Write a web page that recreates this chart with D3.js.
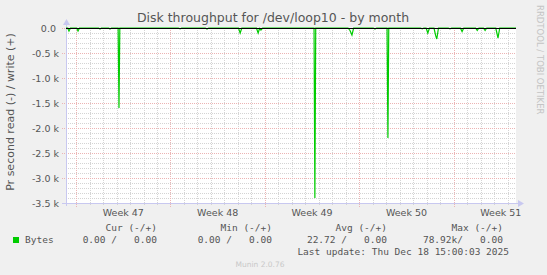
<!DOCTYPE html>
<html>
<head>
<meta charset="utf-8">
<script src="https://cdn.jsdelivr.net/npm/d3@7"></script>
<style>
  body { margin: 0; background: #f0f0f0; }
  svg text { font-family: "DejaVu Sans", sans-serif; }
  .mono { font-family: "DejaVu Sans Mono", monospace; white-space: pre; }
</style>
</head>
<body>
<script>
// time range of the graph (UTC)
var startTime = new Date(Date.UTC(2025, 10, 15, 6, 0)),
    endTime = new Date(Date.UTC(2025, 11, 18, 15, 0));

// read series: hours after startTime, bytes/s (drawn negative)
var sampleHours = [0, 3, 5.3, 8, 19, 21.4, 24, 58, 60.5, 63, 76, 78.3, 81,
  92.8, 94.3, 95.8, 200, 203, 206, 248, 251, 254, 307, 310, 313, 339, 342, 344.5, 347, 350,
  441.5, 443, 444.5, 502, 505.5, 509, 512, 547, 550, 553, 571.5, 573, 574.5,
  631, 634, 637, 641, 644, 647, 655, 658, 660, 663, 680.5, 683.5, 686.5,
  702, 705, 708, 729, 732, 735, 743, 746, 749, 765, 769, 772, 801];
var readBytes = [0, 0, 60, 0, 0, 60, 0, 0, 20, 0, 0, 20, 0,
  0, 1600, 0, 0, 15, 0, 0, 20, 0, 0, 100, 0, 0, 100, 10, 40, 0,
  0, 3400, 0, 0, 50, 140, 0, 0, 20, 0, 0, 2200, 0,
  0, 15, 0, 0, 100, 0, 0, 150, 220, 0, 0, 15, 0,
  0, 70, 0, 0, 50, 0, 0, 50, 0, 0, 200, 0, 0];

var yTicks = [0, -500, -1000, -1500, -2000, -2500, -3000, -3500];
var yTickLabels = ["0.0 ", "-0.5 k", "-1.0 k", "-1.5 k", "-2.0 k", "-2.5 k", "-3.0 k", "-3.5 k"];
var weekLabels = ["Week 47", "Week 48", "Week 49", "Week 50", "Week 51"];

var legendHeads = ["Cur (-/+)", "Min (-/+)", "Avg (-/+)", "Max (-/+)"];
var legendValues = ["0.00 /   0.00", "0.00 /   0.00", "22.72 /   0.00", "78.92k/   0.00"];

var width = 547, height = 275;
var svg = d3.select("body").append("svg")
    .attr("width", width)
    .attr("height", height);

var x = d3.scaleUtc().domain([startTime, endTime]).range([66, 516]);
var y = d3.scaleLinear().domain([-3500, 0]).range([203, 28]);

// canvas
svg.append("rect")
    .attr("x", 66).attr("y", 28)
    .attr("width", 450).attr("height", 175)
    .attr("fill", "#ffffff");

// minor grid
svg.selectAll(".hminor")
    .data(d3.range(-3500, 1, 100))
  .enter().append("line")
    .attr("x1", 66).attr("x2", 516)
    .attr("y1", function(d) { return y(d) + 0.5; })
    .attr("y2", function(d) { return y(d) + 0.5; })
    .attr("stroke", "#d4d4d4")
    .attr("stroke-dasharray", "1,1");

svg.selectAll(".vminor")
    .data(d3.utcDay.range(startTime, endTime))
  .enter().append("line")
    .attr("x1", function(d) { return Math.round(x(d)) + 0.5; })
    .attr("x2", function(d) { return Math.round(x(d)) + 0.5; })
    .attr("y1", 28).attr("y2", 206)
    .attr("stroke", "#d4d4d4")
    .attr("stroke-dasharray", "1,1");

// major grid
svg.selectAll(".hmajor")
    .data(yTicks)
  .enter().append("line")
    .attr("x1", 62).attr("x2", 516)
    .attr("y1", function(d) { return y(d) + 0.5; })
    .attr("y2", function(d) { return y(d) + 0.5; })
    .attr("stroke", "#ecb4b4")
    .attr("stroke-dasharray", "1,1");

var sundays = d3.utcSunday.range(startTime, endTime);
svg.selectAll(".vmajor")
    .data(sundays)
  .enter().append("line")
    .attr("x1", function(d) { return Math.round(x(d)) + 0.5; })
    .attr("x2", function(d) { return Math.round(x(d)) + 0.5; })
    .attr("y1", 28).attr("y2", 207)
    .attr("stroke", "#ecb4b4")
    .attr("stroke-dasharray", "1,1");

// axes lines
svg.append("line")
    .attr("x1", 66.5).attr("x2", 66.5)
    .attr("y1", 24).attr("y2", 206)
    .attr("stroke", "#c8c8f0");
svg.append("path")
    .attr("d", "M63,25 L70,25 L66.5,19 Z")
    .attr("fill", "#c8c8f0");
svg.append("line")
    .attr("x1", 62).attr("x2", 519)
    .attr("y1", 203.5).attr("y2", 203.5)
    .attr("stroke", "#c8c8f0");
svg.append("path")
    .attr("d", "M518,200 L518,207 L524,203.5 Z")
    .attr("fill", "#c8c8f0");

// data line
var line = d3.line()
    .x(function(d, i) { return x(new Date(startTime.getTime() + sampleHours[i] * 3600e3)); })
    .y(function(d) { return y(-d); });

svg.append("path")
    .datum(readBytes)
    .attr("d", line)
    .attr("fill", "none")
    .attr("stroke", "#00cc00")
    .attr("stroke-width", 1.2);

// zero line
svg.append("line")
    .attr("x1", 66).attr("x2", 516)
    .attr("y1", y(0) + 0.5).attr("y2", y(0) + 0.5)
    .attr("stroke", "#000000");

// y tick labels
svg.selectAll(".ylab")
    .data(yTicks)
  .enter().append("text")
    .attr("x", 59)
    .attr("y", function(d) { return y(d) + 3.5; })
    .attr("text-anchor", "end")
    .attr("font-size", "9.5px")
    .attr("fill", "#555")
    .style("white-space", "pre")
    .text(function(d, i) { return yTickLabels[i]; });

// x labels (mid-week)
svg.selectAll(".xlab")
    .data(sundays)
  .enter().append("text")
    .attr("x", function(d) { return x(d3.utcHour.offset(d, 84)); })
    .attr("y", 216)
    .attr("text-anchor", "middle")
    .attr("font-size", "9.5px")
    .attr("fill", "#555")
    .text(function(d, i) { return weekLabels[i]; });

// title
svg.append("text")
    .attr("x", 273).attr("y", 22)
    .attr("text-anchor", "middle")
    .attr("font-size", "12.5px")
    .attr("fill", "#555")
    .text("Disk throughput for /dev/loop10 - by month");

// y axis title
svg.append("text")
    .attr("transform", "translate(14,112) rotate(-90)")
    .attr("text-anchor", "middle")
    .attr("font-size", "11px")
    .attr("fill", "#555")
    .text("Pr second read (-) / write (+)");

// watermark
svg.append("text")
    .attr("transform", "translate(537,5) rotate(90)")
    .attr("font-size", "8.5px")
    .attr("fill", "#c4c4c4")
    .text("RRDTOOL / TOBI OETIKER");

// legend
var headEnds = [157, 272, 387, 503];
svg.selectAll(".lhead")
    .data(legendHeads)
  .enter().append("text")
    .attr("class", "mono")
    .attr("x", function(d, i) { return headEnds[i]; })
    .attr("y", 231)
    .attr("text-anchor", "end")
    .attr("font-size", "9.5px")
    .attr("fill", "#555")
    .text(function(d) { return d; });

svg.append("rect")
    .attr("x", 13).attr("y", 237)
    .attr("width", 6).attr("height", 6)
    .attr("fill", "#00cc00");
svg.append("text")
    .attr("class", "mono")
    .attr("x", 25).attr("y", 243)
    .attr("font-size", "9.5px")
    .attr("fill", "#555")
    .text("Bytes");

svg.selectAll(".lval")
    .data(legendValues)
  .enter().append("text")
    .attr("class", "mono")
    .attr("x", function(d, i) { return headEnds[i]; })
    .attr("y", 243)
    .attr("text-anchor", "end")
    .attr("font-size", "9.5px")
    .attr("fill", "#555")
    .text(function(d) { return d; });

svg.append("text")
    .attr("class", "mono")
    .attr("x", 509).attr("y", 255)
    .attr("text-anchor", "end")
    .attr("font-size", "9.5px")
    .attr("fill", "#555")
    .text("Last update: Thu Dec 18 15:00:03 2025");

svg.append("text")
    .attr("x", 260).attr("y", 267)
    .attr("text-anchor", "middle")
    .attr("font-size", "7.5px")
    .attr("fill", "#c8c8c8")
    .text("Munin 2.0.76");
</script>
</body>
</html>
